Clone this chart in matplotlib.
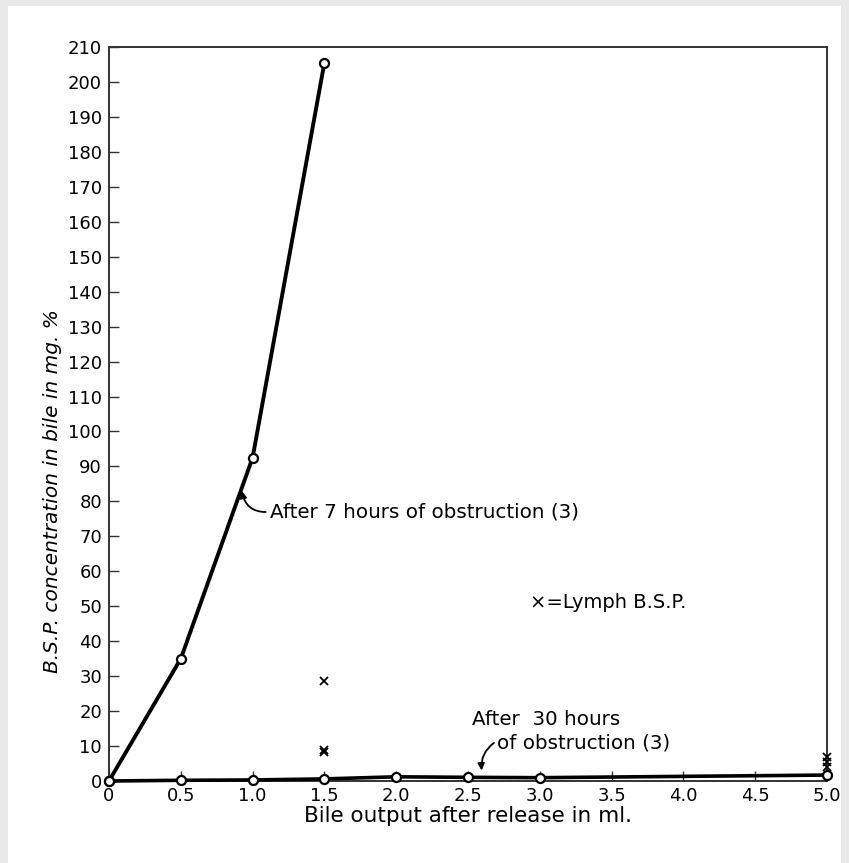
import matplotlib
matplotlib.use("Agg")
import matplotlib.pyplot as plt
from matplotlib.patches import Rectangle

# ---- data ----
x_7h = [0.0, 0.5, 1.0, 1.5]
y_7h = [0.0, 35.0, 92.5, 205.5]

x_30h = [0.0, 0.5, 1.0, 1.5, 2.0, 2.5, 3.0, 5.0]
y_30h = [0.0, 0.2, 0.3, 0.6, 1.2, 1.05, 0.95, 1.7]

lymph_x = [1.5, 1.5, 1.5, 5.0, 5.0, 5.0]
lymph_y = [28.5, 9.0, 8.2, 6.8, 5.4, 4.1]

x_ticks = [0, 0.5, 1.0, 1.5, 2.0, 2.5, 3.0, 3.5, 4.0, 4.5, 5.0]
x_ticklabels = ["0", "0.5", "1.0", "1.5", "2.0", "2.5", "3.0", "3.5", "4.0", "4.5", "5.0"]
y_ticks = list(range(0, 211, 10))

FONT = ["DejaVu Sans"]
plt.rcParams["font.family"] = FONT

fig = plt.figure(figsize=(8.49, 8.63), dpi=100)
fig.patch.set_facecolor("#e9e9e9")

bg = fig.add_axes([0, 0, 1, 1], zorder=-5)
bg.axis("off")
bg.add_patch(Rectangle((8 / 849, 0), 833 / 849, 857 / 863,
                       transform=bg.transAxes, facecolor="white",
                       edgecolor="none"))

ax = fig.add_axes([109 / 849, 1 - 781 / 863, (827 - 109) / 849, (781 - 47) / 863],
                  zorder=5)
ax.set_facecolor("white")

ax.plot(x_7h, y_7h, color="black", lw=2.8, marker="o", ms=6.5,
        mfc="white", mec="black", mew=1.6, zorder=4, clip_on=False)
ax.plot(x_30h, y_30h, color="black", lw=2.6, marker="o", ms=6.5,
        mfc="white", mec="black", mew=1.6, zorder=4, clip_on=False)
ax.plot(lymph_x, lymph_y, linestyle="none", marker="x", ms=6, mew=1.3,
        color="black", zorder=5, clip_on=False)

ax.set_xlim(0, 5.0)
ax.set_ylim(0, 210)
ax.set_xticks(x_ticks)
ax.set_xticklabels(x_ticklabels)
ax.set_yticks(y_ticks)
ax.set_yticklabels([str(v) for v in y_ticks])
ax.tick_params(axis="both", direction="in", length=7, width=1.0,
               labelsize=13, color="#333333", pad=5)
ax.tick_params(axis="x", pad=4.5)
for s in ax.spines.values():
    s.set_linewidth(1.4)
    s.set_color("#333333")

ax.set_xlabel("Bile output after release in ml.", fontsize=15.5)
ax.xaxis.set_label_coords(0.5, -(816 - 781) / 734, transform=ax.transAxes)
ax.xaxis.label.set_va("center")
ax.set_ylabel("B.S.P. concentration in bile in mg. %", fontsize=14.5,
              style="italic")
ax.yaxis.set_label_coords(-(109 - 52) / 718, (781 - 491) / 734, transform=ax.transAxes)
ax.yaxis.label.set_va("center")

ANN = 14.3
ax.annotate("After 7 hours of obstruction (3)", xy=(0.925, 83),
            xytext=(1.12, 77), fontsize=ANN, va="center", ha="left",
            arrowprops=dict(arrowstyle="-|>", color="black", lw=1.3,
                            connectionstyle="arc3,rad=-0.45",
                            shrinkA=1, shrinkB=0, mutation_scale=10,
                            relpos=(0, 0.5)))
ax.text(2.93, 51, "×=Lymph B.S.P.", fontsize=14, ha="left", va="center")
ax.text(2.53, 17.5, "After  30 hours", fontsize=ANN, ha="left", va="center")
ax.annotate("of obstruction (3)", xy=(2.595, 3.0), xytext=(2.70, 10.9),
            fontsize=ANN, va="center", ha="left",
            arrowprops=dict(arrowstyle="-|>", color="black", lw=1.3,
                            connectionstyle="arc3,rad=0.3",
                            shrinkA=0, shrinkB=0, mutation_scale=10,
                            relpos=(0, 0.6)))

fig.savefig("out.png", dpi=100, facecolor=fig.get_facecolor())
